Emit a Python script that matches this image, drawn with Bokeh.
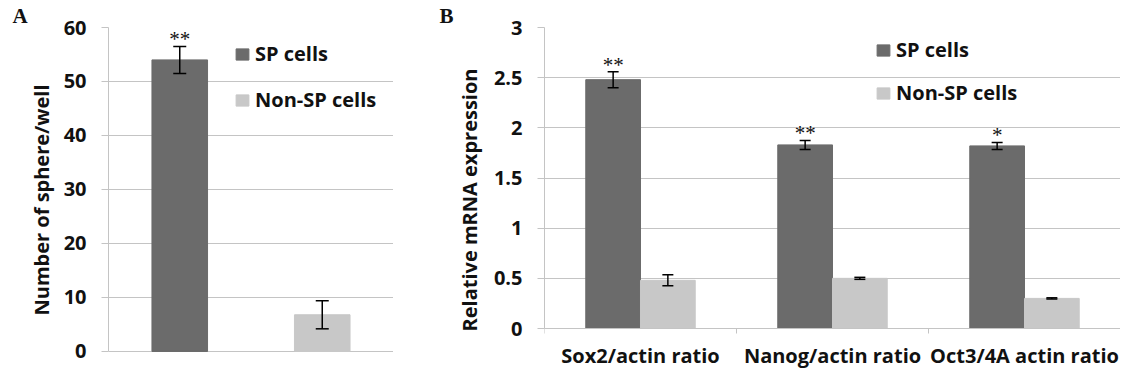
from bokeh.plotting import figure
from bokeh.layouts import row
from bokeh.models import (ColumnDataSource, FactorRange, Range1d, FixedTicker, Whisker, TeeHead,
                          Legend, LegendItem, LinearAxis)
from bokeh.transform import dodge
from bokeh.core.properties import value
from bokeh.embed import file_html
from bokeh.resources import INLINE

# ---------------- data ----------------
# Panel A
a_groups = ["SP cells", "Non-SP cells"]
a_values = [54.0, 6.8]
a_errors = [2.5, 2.6]
a_star_group = ["SP cells"]
a_star_text = ["**"]
a_ticks = [0, 10, 20, 30, 40, 50, 60]

# Panel B
b_categories = ["Sox2/actin ratio", "Nanog/actin ratio", "Oct3/4A actin ratio"]
b_sp = [2.48, 1.83, 1.82]
b_sp_err = [0.08, 0.045, 0.035]
b_non = [0.48, 0.50, 0.30]
b_non_err = [0.055, 0.01, 0.006]
b_stars = ["**", "**", "*"]
b_ticks = [0, 0.5, 1, 1.5, 2, 2.5, 3]
b_tick_labels = ["0", "0.5", "1", "1.5", "2", "2.5", "3"]

SP_COLOR = "#6b6b6b"
NON_COLOR = "#c8c8c8"
GRID = "#c4c4c4"
FONT = "Open Sans"
FS = "20px"
H = 372


def style_y(p, ticks, overrides=None):
    ax = p.yaxis[0]
    ax.ticker = FixedTicker(ticks=ticks)
    ax.bounds = (ticks[0], ticks[-1])
    if overrides:
        ax.major_label_overrides = overrides
    ax.axis_line_color = GRID
    ax.major_tick_line_color = GRID
    ax.major_tick_in = 0
    ax.major_tick_out = 7
    ax.minor_tick_line_color = None
    ax.major_label_standoff = 15
    ax.major_label_text_font = FONT
    ax.major_label_text_font_style = "bold"
    ax.major_label_text_font_size = FS
    ax.major_label_text_color = "#111111"
    ax.axis_label_text_font = FONT
    ax.axis_label_text_font_style = "bold"
    ax.axis_label_text_font_size = FS
    ax.axis_label_text_color = "#111111"
    p.ygrid.grid_line_color = GRID
    p.ygrid.ticker = FixedTicker(ticks=ticks)
    p.xgrid.grid_line_color = None
    p.outline_line_color = None


def style_title(p, letter, offset):
    t = p.title
    t.text = letter
    t.align = "left"
    t.offset = offset
    t.standoff = 0
    t.vertical_align = "bottom"
    t.text_font = "Liberation Serif"
    t.text_font_style = "bold"
    t.text_font_size = "21px"
    t.text_color = "#111111"


def style_legend(leg):
    leg.label_text_font = FONT
    leg.label_text_font_style = "bold"
    leg.label_text_font_size = FS
    leg.label_text_color = "#111111"
    leg.glyph_width = 16
    leg.glyph_height = 14
    leg.label_standoff = 5
    leg.label_height = 27
    leg.padding = 0
    leg.margin = 0
    leg.border_line_color = None
    leg.background_fill_alpha = 0


def whisker(base, up, lo, src, size):
    return Whisker(base=base, upper=up, lower=lo, source=src, level="overlay",
                   line_color="black", line_width=1.5,
                   upper_head=TeeHead(size=size, line_color="black", line_width=1.5),
                   lower_head=TeeHead(size=size, line_color="black", line_width=1.5))


# ---------------- panel A ----------------
srcA = ColumnDataSource(dict(
    cat=a_groups, val=a_values,
    upper=[v + e for v, e in zip(a_values, a_errors)],
    lower=[v - e for v, e in zip(a_values, a_errors)],
    color=[SP_COLOR, NON_COLOR]))
star_upper = [srcA.data["upper"][a_groups.index(g)] for g in a_star_group]
srcA_star = ColumnDataSource(dict(cat=a_star_group, upper=star_upper, star=a_star_text))

# both frames share their height in the row; the space below 0 is padding
pA = figure(width=393, height=H, x_range=FactorRange(factors=a_groups), y_range=Range1d(-3.889, 60),
            x_axis_location=None, output_backend="svg", toolbar_location=None,
            min_border_left=108, min_border_right=0, min_border_top=27, min_border_bottom=0)
rA = pA.vbar(x="cat", top="val", width=0.39, source=srcA, color="color")
pA.add_layout(whisker("cat", "upper", "lower", srcA, 13))
pA.text(x="cat", y="upper", text="star", source=srcA_star, text_font=value("Liberation Serif"),
        text_font_size="21px", text_align="center", text_baseline="alphabetic", y_offset=-7,
        text_color="#111111")
style_y(pA, a_ticks)
pA.yaxis.axis_label = "Number of sphere/well"
pA.yaxis.axis_label_standoff = 6
style_title(pA, "A", -96)

legA = Legend(items=[LegendItem(label=a_groups[0], renderers=[rA], index=0),
                     LegendItem(label=a_groups[1], renderers=[rA], index=1)],
              location=(126, 259), spacing=19)
style_legend(legA)
pA.add_layout(legA)

# ---------------- panel B ----------------
n_b = len(b_categories)
b_pos = [i + 0.5 for i in range(n_b)]
srcB = ColumnDataSource(dict(
    x=b_pos, sp=b_sp, non=b_non,
    sp_up=[v + e for v, e in zip(b_sp, b_sp_err)],
    sp_lo=[v - e for v, e in zip(b_sp, b_sp_err)],
    non_up=[v + e for v, e in zip(b_non, b_non_err)],
    non_lo=[v - e for v, e in zip(b_non, b_non_err)],
    star=b_stars))

pB = figure(width=727, height=H, x_range=Range1d(0, n_b), y_range=Range1d(-0.4385, 3),
            x_axis_location=None, output_backend="svg", toolbar_location=None,
            min_border_left=151, min_border_right=0, min_border_top=27, min_border_bottom=0)
OFF = 0.1425
BW = 0.285
r_sp = pB.vbar(x=dodge("x", -OFF), top="sp", width=BW, source=srcB, color=SP_COLOR)
r_non = pB.vbar(x=dodge("x", OFF), top="non", width=BW, source=srcB, color=NON_COLOR)
pB.add_layout(whisker(dodge("x", -OFF), "sp_up", "sp_lo", srcB, 11))
pB.add_layout(whisker(dodge("x", OFF), "non_up", "non_lo", srcB, 11))
pB.text(x=dodge("x", -OFF), y="sp_up", text="star", source=srcB,
        text_font=value("Liberation Serif"), text_font_size="21px", text_align="center",
        text_baseline="alphabetic", y_offset=-7, text_color="#111111")
style_y(pB, b_ticks, {t: l for t, l in zip(b_ticks, b_tick_labels)})
pB.yaxis.axis_label = "Relative mRNA expression"
pB.yaxis.axis_label_standoff = 8
style_title(pB, "B", -105)

cat_axis = LinearAxis(ticker=FixedTicker(ticks=b_pos, minor_ticks=list(range(n_b + 1))),
                      fixed_location=0,
                      major_label_overrides={p: c for p, c in zip(b_pos, b_categories)},
                      axis_line_color=GRID, major_tick_line_color=None,
                      major_tick_in=0, major_tick_out=0,
                      minor_tick_line_color=GRID, minor_tick_in=0, minor_tick_out=5,
                      major_label_standoff=8,
                      major_label_text_font=FONT, major_label_text_font_style="bold",
                      major_label_text_font_size=FS, major_label_text_color="#111111")
pB.add_layout(cat_axis, "below")

legB = Legend(items=[LegendItem(label="SP cells", renderers=[r_sp]),
                     LegendItem(label="Non-SP cells", renderers=[r_non])],
              location=(331, 266), spacing=16)
style_legend(legB)
pB.add_layout(legB)

layout = row(pA, pB)
open("out.html", "w").write(file_html(layout, INLINE))
